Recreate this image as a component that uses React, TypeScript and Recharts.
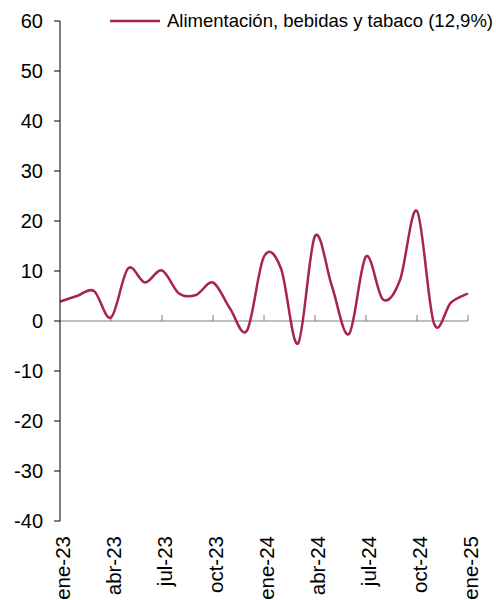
import React from "react";
import { LineChart, Line, XAxis, YAxis, ReferenceLine, Legend } from "recharts";

const months = [
  "ene-23", "feb-23", "mar-23", "abr-23", "may-23", "jun-23", "jul-23", "ago-23", "sep-23", "oct-23", "nov-23", "dic-23",
  "ene-24", "feb-24", "mar-24", "abr-24", "may-24", "jun-24", "jul-24", "ago-24", "sep-24", "oct-24", "nov-24", "dic-24",
  "ene-25",
];
const values = [
  3.9, 5.0, 6.0, 0.7, 10.5, 7.7, 10.1, 5.5, 5.2, 7.7, 2.5, -1.9,
  12.9, 10.5, -4.5, 17.0, 6.9, -2.6, 12.9, 4.3, 8.2, 22.0, -0.5, 3.7,
  5.5,
];
const yTicks = [-40, -30, -20, -10, 0, 10, 20, 30, 40, 50, 60];
const tickMonths = ["abr-23", "jul-23", "oct-23", "ene-24", "abr-24", "jul-24", "oct-24", "ene-25"];
const seriesName = "Alimentación, bebidas y tabaco (12,9%)";

const data = months.map((m, i) => ({ month: m, value: values[i] }));

const FONT = "Liberation Sans, Arial, sans-serif";
const LINE_COLOR = "#A6244E";

// Excel-style smoothed line (Catmull-Rom like Bezier through the points)
function excelCurve(context: any) {
  let pts: [number, number][] = [];
  return {
    areaStart() {},
    areaEnd() {},
    lineStart() {
      pts = [];
    },
    point(x: number, y: number) {
      pts.push([+x, +y]);
    },
    lineEnd() {
      if (!pts.length) return;
      context.moveTo(pts[0][0], pts[0][1]);
      for (let i = 0; i < pts.length - 1; i++) {
        const p0 = pts[i - 1] || pts[i];
        const p1 = pts[i];
        const p2 = pts[i + 1];
        const p3 = pts[i + 2] || pts[i + 1];
        const c1x = p1[0] + (p2[0] - p0[0]) / 6;
        const c1y = p1[1] + (p2[1] - p0[1]) / 6;
        const c2x = p2[0] - (p3[0] - p1[0]) / 6;
        const c2y = p2[1] - (p3[1] - p1[1]) / 6;
        context.bezierCurveTo(c1x, c1y, c2x, c2y, p2[0], p2[1]);
      }
    },
  };
}

const XTick = (props: any) => {
  const { x, y, payload } = props;
  const tx = x + 2;
  return (
    <text
      x={tx}
      y={y}
      transform={`rotate(-90, ${tx}, ${y})`}
      textAnchor="end"
      dominantBaseline="central"
      fontFamily={FONT}
      fontSize={20.5}
      fill="#000"
    >
      {payload.value}
    </text>
  );
};

const LegendContent = () => (
  <div style={{ display: "flex", alignItems: "center", fontFamily: FONT, fontSize: 18.5, lineHeight: "21px", color: "#000", whiteSpace: "nowrap" }}>
    <svg width={50} height={4} style={{ marginRight: 7 }}>
      <line x1={0} y1={2} x2={50} y2={2} stroke={LINE_COLOR} strokeWidth={2.5} />
    </svg>
    <span>{seriesName}</span>
  </div>
);

export default function App() {
  return (
    <div style={{ position: "absolute", left: 0, top: 0 }}>
      <LineChart width={496} height={600} data={data} margin={{ top: 21, right: 28, bottom: 0, left: 0 }}>
        <XAxis
          dataKey="month"
          interval={2}
          axisLine={false}
          tickLine={false}
          height={79}
          tick={<XTick />}
          tickMargin={9}
          padding={{ left: 0, right: 0 }}
        />
        <YAxis
          domain={[-40, 60]}
          ticks={yTicks}
          interval={0}
          width={60}
          axisLine={{ stroke: "#000", strokeWidth: 1 }}
          tickLine={{ stroke: "#000" }}
          tickSize={6}
          tick={{ fontFamily: FONT, fontSize: 20, fill: "#000" }}
          tickMargin={11}
        />
        <ReferenceLine y={0} stroke="#7f7f7f" strokeWidth={1.2} />
        {tickMonths.map((m) => (
          <ReferenceLine
            key={m}
            segment={[{ x: m, y: 0 }, { x: m, y: 1.2 }]}
            stroke="#7f7f7f"
            strokeWidth={1}
          />
        ))}
        <Line
          dataKey="value"
          name={seriesName}
          type={excelCurve as any}
          stroke={LINE_COLOR}
          strokeWidth={2.5}
          dot={false}
          activeDot={false}
          isAnimationActive={false}
        />
        <Legend
          layout="horizontal"
          verticalAlign="middle"
          align="center"
          content={<LegendContent />}
          wrapperStyle={{ top: 10, left: 110, width: "auto", height: "auto" }}
        />
      </LineChart>
    </div>
  );
}
